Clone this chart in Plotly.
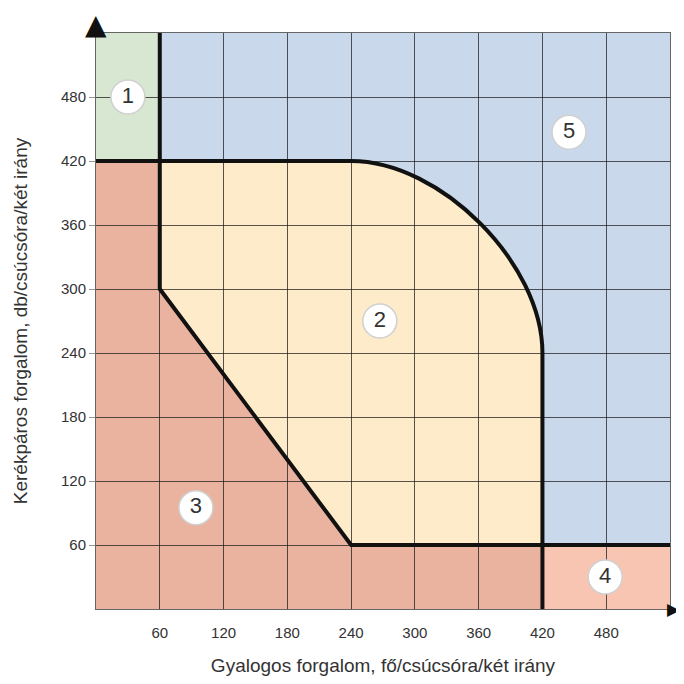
import plotly.graph_objects as go

# ---- data ----
tick_values = [60, 120, 180, 240, 300, 360, 420, 480]
tick_labels = ["60", "120", "180", "240", "300", "360", "420", "480"]
axis_max = 540

# zone boundary vertices (pedestrian flow x, cyclist flow y)
zone1_x = [0, 60]; zone1_y = [420, 540]
zone4_x = [420, 540]; zone4_y = [0, 60]
zone2_x = [60, 240, 420, 420, 240]
zone2_y = [420, 420, 240, 60, 60]
zone2_low_x = [60]; zone2_low_y = [300]
arc_ctrl_x = [324, 420]; arc_ctrl_y = [420, 324]
zone3_x = [0, 0, 60, 60, 240, 420, 420]
zone3_y = [0, 420, 420, 300, 60, 60, 0]

label_names = ["1", "2", "3", "4", "5"]
label_x = [30, 267, 94, 479, 445]
label_y = [480, 270, 95, 30, 447]

colors = {
    "1": "#d7e7d2",
    "2": "#fdebca",
    "3": "#e9b3a0",
    "4": "#f8c5b2",
    "5": "#c9d9eb",
}

FONT = "Liberation Sans, Arial, sans-serif"

def P(x, y):
    return f"{x},{y}"

zone2_path = (
    f"M {P(zone2_x[0], zone2_y[0])} L {P(zone2_x[1], zone2_y[1])} "
    f"C {P(arc_ctrl_x[0], arc_ctrl_y[0])} {P(arc_ctrl_x[1], arc_ctrl_y[1])} {P(zone2_x[2], zone2_y[2])} "
    f"L {P(zone2_x[3], zone2_y[3])} L {P(zone2_x[4], zone2_y[4])} "
    f"L {P(zone2_low_x[0], zone2_low_y[0])} Z"
)
zone3_path = "M " + " L ".join(P(x, y) for x, y in zip(zone3_x, zone3_y)) + " Z"

outer_path = (
    f"M {P(0, 420)} L {P(240, 420)} "
    f"C {P(arc_ctrl_x[0], arc_ctrl_y[0])} {P(arc_ctrl_x[1], arc_ctrl_y[1])} {P(420, 240)} "
    f"L {P(420, 60)} L {P(axis_max, 60)}"
)
inner_path = f"M {P(60, axis_max)} L {P(60, 300)} L {P(240, 60)} L {P(420, 60)} L {P(420, 0)}"

shapes = [
    dict(type="rect", xref="x", yref="y", x0=zone1_x[0], x1=zone1_x[1], y0=zone1_y[0], y1=zone1_y[1],
         fillcolor=colors["1"], line=dict(width=0), layer="below"),
    dict(type="rect", xref="x", yref="y", x0=zone4_x[0], x1=zone4_x[1], y0=zone4_y[0], y1=zone4_y[1],
         fillcolor=colors["4"], line=dict(width=0), layer="below"),
    dict(type="path", xref="x", yref="y", path=zone2_path, fillcolor=colors["2"],
         line=dict(width=0), layer="below"),
    dict(type="path", xref="x", yref="y", path=zone3_path, fillcolor=colors["3"],
         line=dict(width=0), layer="below"),
    dict(type="path", xref="x", yref="y", path=outer_path, line=dict(color="#111111", width=4),
         layer="above"),
    dict(type="path", xref="x", yref="y", path=inner_path, line=dict(color="#111111", width=4),
         layer="above"),
]

fig = go.Figure()

fig.add_trace(go.Scatter(
    x=label_x, y=label_y, mode="markers+text", text=label_names,
    textposition="middle center",
    textfont=dict(family=FONT, size=22, color="#333333"),
    marker=dict(size=34, color="white", line=dict(color="#d0d0d0", width=1.5)),
    hoverinfo="skip", showlegend=False,
))

annotations = [
    dict(xref="paper", yref="paper", x=0, y=1, text="▲", showarrow=False,
         xanchor="center", yanchor="bottom", yshift=-10,
         font=dict(family="DejaVu Sans", size=28, color="#111111")),
    dict(xref="paper", yref="paper", x=1, y=0, text="▶", showarrow=False,
         xanchor="left", yanchor="middle", xshift=-4, borderpad=0,
         font=dict(family="DejaVu Sans", size=17, color="#111111")),
]

axis_common = dict(
    range=[0, axis_max],
    tickmode="array",
    tickvals=tick_values,
    ticktext=tick_labels,
    showgrid=True,
    gridcolor="rgba(30,30,30,0.75)",
    gridwidth=1.2,
    zeroline=False,
    showline=True,
    linecolor="#666666",
    linewidth=1,
    mirror=True,
    ticks="outside",
    tickfont=dict(family=FONT, size=15, color="#333333"),
)

fig.update_layout(
    width=676, height=676,
    margin=dict(l=88, r=14, t=25, b=75),
    paper_bgcolor="white",
    plot_bgcolor=colors["5"],
    shapes=shapes,
    annotations=annotations,
    xaxis=dict(**axis_common, ticklen=10, tickcolor="rgba(0,0,0,0)",
               title=dict(text="Gyalogos forgalom, fő/csúcsóra/két irány",
                          font=dict(family=FONT, size=19, color="#333333"),
                          standoff=18)),
    yaxis=dict(**axis_common, ticklen=6, tickcolor="#999999",
               title=dict(text="Kerékpáros forgalom, db/csúcsóra/két irány",
                          font=dict(family=FONT, size=19, color="#333333"),
                          standoff=28)),
    showlegend=False,
)

fig.write_html("out.html")
